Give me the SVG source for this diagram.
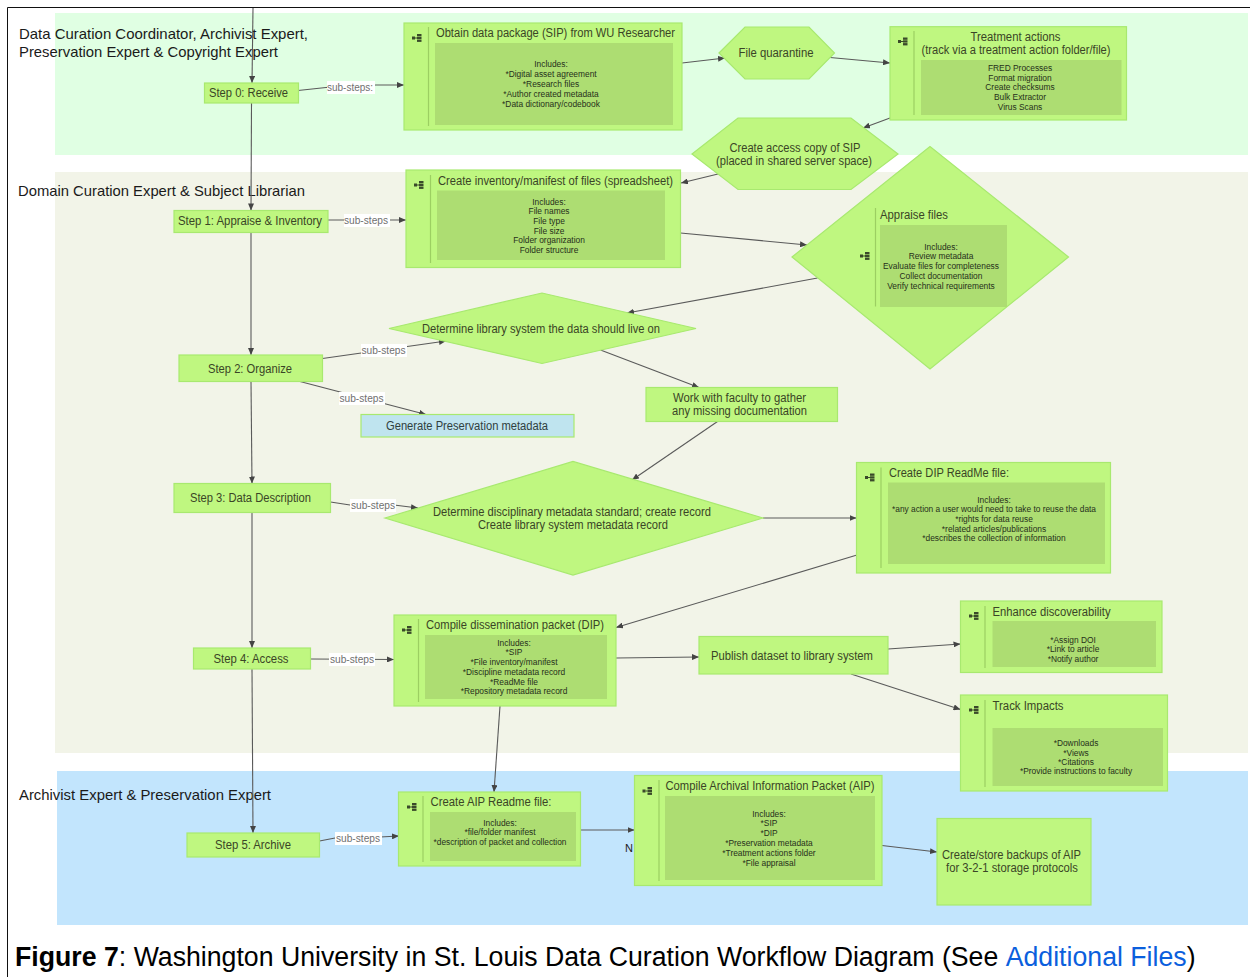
<svg xmlns="http://www.w3.org/2000/svg" xmlns:xlink="http://www.w3.org/1999/xlink" width="1250" height="977" viewBox="0 0 1250 977">
<style>
text{font-family:"Liberation Sans",Arial,sans-serif}
.n{fill:#bff780;stroke:#a8e96f;stroke-width:1.2}
.g{fill:#bfe4ef;stroke:#a8e96f;stroke-width:1.2}
.i{fill:#addd72}
.d{stroke:#9ccf62;stroke-width:1.2;fill:none}
.t{font-size:12px;fill:#3a4526}
.c{text-anchor:middle}
.b{font-size:8.400px;fill:#26301a;text-anchor:middle}
.lane{font-size:15px;fill:#1a1a1a}
.l{font-size:10.500px;fill:#707070;text-anchor:middle}
.lb{fill:#fff}
.e{fill:none;stroke:#5a5a5a;stroke-width:1.1;marker-end:url(#a)}
.ic{fill:#3a4a2a}
</style>
<defs>
<marker id="a" markerUnits="userSpaceOnUse" markerWidth="8" markerHeight="6" refX="7" refY="3" orient="auto"><path d="M0 0L7 3L0 6z" fill="#444"/></marker>
<g id="ico"><rect x="-5" y="-1.500" width="3" height="3"/><rect x="-2" y="-.5" width="2" height="1"/><rect x="0" y="-4" width="4.500" height="2.300"/><rect x="0" y="-1.200" width="4.500" height="2.300"/><rect x="0" y="1.600" width="4.500" height="2.300"/></g>
</defs>
<rect width="1250" height="977" fill="#fff"/>
<g id="frame"><path d="M7.500 977V7.500H1250" fill="none" stroke="#111" stroke-width="1"/></g>
<g id="lanes">
<rect x="55" y="13" width="1193" height="142" fill="#e0ffe3"/>
<rect x="55" y="172" width="1193" height="581" fill="#f2f4e8"/>
<rect x="57" y="771" width="1191" height="154" fill="#c2e5fd"/>
<text class="lane" x="19" y="39" textLength="289" lengthAdjust="spacingAndGlyphs">Data Curation Coordinator, Archivist Expert,</text>
<text class="lane" x="19" y="57" textLength="259" lengthAdjust="spacingAndGlyphs">Preservation Expert &amp; Copyright Expert</text>
<text class="lane" x="18" y="196" textLength="287" lengthAdjust="spacingAndGlyphs">Domain Curation Expert &amp; Subject Librarian</text>
<text class="lane" x="19" y="800" textLength="252" lengthAdjust="spacingAndGlyphs">Archivist Expert &amp; Preservation Expert</text>
</g>
<g id="connectors">
<path class="e" d="M253 8L252 83"/>
<path class="e" d="M251.500 103L251 210.500"/>
<path class="e" d="M251 232.500L251 355"/>
<path class="e" d="M251 381.500L252 483.500"/>
<path class="e" d="M252 512.500L252 648"/>
<path class="e" d="M252 669L253 833"/>
<path class="e" d="M298 90.500L326 87.500L376 85L404 85"/>
<path class="e" d="M328 220L406 220"/>
<path class="e" d="M322.500 358.500L446 341"/>
<path class="e" d="M300 381.500L426 414.500"/>
<path class="e" d="M330.500 502L350 505L394 505L418 508"/>
<path class="e" d="M310.500 659L394 659.500"/>
<path class="e" d="M319.500 841L335 838L380 837L399 836"/>
<path class="e" d="M682 63L725 58"/>
<path class="e" d="M830 57.500L890 63"/>
<path class="e" d="M890 118L863 128"/>
<path class="e" d="M718 174L681 183"/>
<path class="e" d="M680.500 233L807 245"/>
<path class="e" d="M817.500 278L627 313"/>
<path class="e" d="M600.500 350L699 387.500"/>
<path class="e" d="M717.500 421.500L632 480"/>
<path class="e" d="M763 518L856.500 518"/>
<path class="e" d="M857 555L616 627.500"/>
<path class="e" d="M616 658L699 657"/>
<path class="e" d="M888 649L960.500 644"/>
<path class="e" d="M851 674L960.500 709.500"/>
<path class="e" d="M500 706L494 792"/>
<path class="e" d="M580.500 830L634.500 830"/>
<path class="e" d="M882 845.500L937 852"/>
<rect class="lb" x="327" y="81" width="48" height="13"/><text class="l" x="350" y="91" textLength="46" lengthAdjust="spacingAndGlyphs">sub-steps:</text>
<rect class="lb" x="344" y="214" width="46" height="13"/><text class="l" x="366" y="224" textLength="44" lengthAdjust="spacingAndGlyphs">sub-steps</text>
<rect class="lb" x="361" y="344" width="46" height="13"/><text class="l" x="383.500" y="354" textLength="44" lengthAdjust="spacingAndGlyphs">sub-steps</text>
<rect class="lb" x="339" y="392" width="46" height="13"/><text class="l" x="361.500" y="402" textLength="44" lengthAdjust="spacingAndGlyphs">sub-steps</text>
<rect class="lb" x="350" y="499" width="46" height="13"/><text class="l" x="373" y="509" textLength="44" lengthAdjust="spacingAndGlyphs">sub-steps</text>
<rect class="lb" x="329" y="653" width="46" height="13"/><text class="l" x="352" y="663" textLength="44" lengthAdjust="spacingAndGlyphs">sub-steps</text>
<rect class="lb" x="335" y="832" width="47" height="13"/><text class="l" x="358" y="842" textLength="44" lengthAdjust="spacingAndGlyphs">sub-steps</text>
<text x="625" y="852" font-size="11" fill="#222">N</text>
</g>
<g id="step0"><rect class="n" x="204.500" y="83" width="94" height="20"/><text class="t c" x="248.500" y="96.500" textLength="79" lengthAdjust="spacingAndGlyphs">Step 0: Receive</text></g>
<g id="step1"><rect class="n" x="174" y="210.500" width="154" height="22"/><text class="t c" x="250" y="225" textLength="144" lengthAdjust="spacingAndGlyphs">Step 1: Appraise &amp; Inventory</text></g>
<g id="step2"><rect class="n" x="179" y="355" width="143.500" height="26.500"/><text class="t c" x="250" y="373" textLength="84" lengthAdjust="spacingAndGlyphs">Step 2: Organize</text></g>
<g id="step3"><rect class="n" x="174" y="483.500" width="156.500" height="29"/><text class="t c" x="250.500" y="502" textLength="121" lengthAdjust="spacingAndGlyphs">Step 3: Data Description</text></g>
<g id="step4"><rect class="n" x="193.500" y="648" width="117" height="21"/><text class="t c" x="251" y="663" textLength="75" lengthAdjust="spacingAndGlyphs">Step 4: Access</text></g>
<g id="step5"><rect class="n" x="187" y="833" width="132.500" height="24"/><text class="t c" x="253" y="849" textLength="76" lengthAdjust="spacingAndGlyphs">Step 5: Archive</text></g>
<g id="obtain"><rect class="n" x="404" y="23" width="278" height="107"/><path class="d" d="M428.500 27V126"/><use href="#ico" class="ic" x="417" y="38"/><rect class="i" x="435" y="43" width="238" height="82"/>
<text class="t c" x="555.500" y="37" textLength="239" lengthAdjust="spacingAndGlyphs">Obtain data package (SIP) from WU Researcher</text>
<text class="b" x="551" y="67">Includes:</text><text class="b" x="551" y="77">*Digital asset agreement</text><text class="b" x="551" y="87">*Research files</text><text class="b" x="551" y="96.500">*Author created metadata</text><text class="b" x="551" y="106.500">*Data dictionary/codebook</text></g>
<g id="quarantine"><path class="n" d="M719 53L745 27H809L834.500 53L809 79H745z"/><text class="t c" x="776" y="56.500" textLength="75" lengthAdjust="spacingAndGlyphs">File quarantine</text></g>
<g id="treatment"><rect class="n" x="890" y="26.700" width="236.500" height="93.300"/><path class="d" d="M914 31V115"/><use href="#ico" class="ic" x="903" y="41.500"/><rect class="i" x="921" y="60" width="200.500" height="55"/>
<text class="t c" x="1015.500" y="41" textLength="90" lengthAdjust="spacingAndGlyphs">Treatment actions</text><text class="t c" x="1016" y="53.500" textLength="189" lengthAdjust="spacingAndGlyphs">(track via a treatment action folder/file)</text>
<text class="b" x="1020" y="71">FRED Processes</text><text class="b" x="1020" y="80.500">Format migration</text><text class="b" x="1020" y="90">Create checksums</text><text class="b" x="1020" y="100">Bulk Extractor</text><text class="b" x="1020" y="109.500">Virus Scans</text></g>
<g id="access"><path class="n" d="M692 154L738 118H851L898 154L851 189.500H738z"/><text class="t c" x="795" y="151.500" textLength="131" lengthAdjust="spacingAndGlyphs">Create access copy of SIP</text><text class="t c" x="794" y="164.500" textLength="156" lengthAdjust="spacingAndGlyphs">(placed in shared server space)</text></g>
<g id="inventory"><rect class="n" x="406" y="170" width="274.500" height="97.500"/><path class="d" d="M430.500 175V263"/><use href="#ico" class="ic" x="419" y="185"/><rect class="i" x="437" y="190.500" width="228" height="69.500"/>
<text class="t c" x="555.500" y="185" textLength="235" lengthAdjust="spacingAndGlyphs">Create inventory/manifest of files (spreadsheet)</text>
<text class="b" x="549" y="204.500">Includes:</text><text class="b" x="549" y="214">File names</text><text class="b" x="549" y="223.500">File type</text><text class="b" x="549" y="233.500">File size</text><text class="b" x="549" y="243">Folder organization</text><text class="b" x="549" y="252.500">Folder structure</text></g>
<g id="appraise"><path class="n" d="M792 257L930 146.500L1068.500 257L930 369z"/><path class="d" d="M875.500 208V306.500"/><use href="#ico" class="ic" x="865" y="256"/><rect class="i" x="880" y="225" width="127" height="82"/>
<text class="t" x="880" y="219" textLength="68" lengthAdjust="spacingAndGlyphs">Appraise files</text>
<text class="b" x="941" y="249.500">Includes:</text><text class="b" x="941" y="259">Review metadata</text><text class="b" x="941" y="268.500">Evaluate files for completeness</text><text class="b" x="941" y="279">Collect documentation</text><text class="b" x="941" y="288.500">Verify technical requirements</text></g>
<g id="library"><path class="n" d="M389 328.500L542 293L696 328.500L542 363.500z"/><text class="t c" x="541" y="332.500" textLength="238" lengthAdjust="spacingAndGlyphs">Determine library system the data should live on</text></g>
<g id="preservation"><rect class="g" x="361" y="414.500" width="213" height="22.500"/><text class="t c" x="467" y="429.500" textLength="162" lengthAdjust="spacingAndGlyphs" style="fill:#2f4040">Generate Preservation metadata</text></g>
<g id="faculty"><rect class="n" x="646" y="387.500" width="191.500" height="34"/><text class="t c" x="739.500" y="402" textLength="133" lengthAdjust="spacingAndGlyphs">Work with faculty to gather</text><text class="t c" x="739.500" y="415" textLength="135" lengthAdjust="spacingAndGlyphs">any missing documentation</text></g>
<g id="disciplinary"><path class="n" d="M385 518L573 461.500L763 518L573 575z"/><text class="t c" x="572" y="515.500" textLength="278" lengthAdjust="spacingAndGlyphs">Determine disciplinary metadata standard; create record</text><text class="t c" x="573" y="529" textLength="190" lengthAdjust="spacingAndGlyphs">Create library system metadata record</text></g>
<g id="readme"><rect class="n" x="856.500" y="462.500" width="254" height="110.500"/><path class="d" d="M881 467.500V568"/><use href="#ico" class="ic" x="870" y="477.500"/><rect class="i" x="888" y="482.500" width="217" height="81.500"/>
<text class="t" x="889" y="477" textLength="120" lengthAdjust="spacingAndGlyphs">Create DIP ReadMe file:</text>
<text class="b" x="994" y="502.500">Includes:</text><text class="b" x="994" y="512" textLength="204" lengthAdjust="spacingAndGlyphs">*any action a user would need to take to reuse the data</text><text class="b" x="994" y="522">*rights for data reuse</text><text class="b" x="994" y="531.500">*related articles/publications</text><text class="b" x="994" y="541">*describes the collection of information</text></g>
<g id="dip"><rect class="n" x="394" y="615" width="222" height="91"/><path class="d" d="M418.500 619V702"/><use href="#ico" class="ic" x="407" y="630"/><rect class="i" x="425" y="635" width="182" height="64"/>
<text class="t" x="426" y="628.500" textLength="178" lengthAdjust="spacingAndGlyphs">Compile dissemination packet (DIP)</text>
<text class="b" x="514" y="646">Includes:</text><text class="b" x="514" y="655">*SIP</text><text class="b" x="514" y="665">*File inventory/manifest</text><text class="b" x="514" y="675">*Discipline metadata record</text><text class="b" x="514" y="684.500">*ReadMe file</text><text class="b" x="514" y="694">*Repository metadata record</text></g>
<g id="publish"><rect class="n" x="699" y="636.500" width="189" height="37.500"/><text class="t c" x="792" y="659.500" textLength="162" lengthAdjust="spacingAndGlyphs">Publish dataset to library system</text></g>
<g id="enhance"><rect class="n" x="960.500" y="601" width="201.500" height="71.500"/><path class="d" d="M985 606V668"/><use href="#ico" class="ic" x="974" y="616"/><rect class="i" x="992.500" y="621" width="163.500" height="46"/>
<text class="t" x="992.500" y="615.500" textLength="118" lengthAdjust="spacingAndGlyphs">Enhance discoverability</text>
<text class="b" x="1073" y="642.500">*Assign DOI</text><text class="b" x="1073" y="652">*Link to article</text><text class="b" x="1073" y="662">*Notify author</text></g>
<g id="aipreadme"><rect class="n" x="398.500" y="792" width="182" height="74"/><path class="d" d="M423 796V862"/><use href="#ico" class="ic" x="412" y="807"/><rect class="i" x="430" y="812" width="146" height="49"/>
<text class="t" x="430.500" y="806" textLength="121" lengthAdjust="spacingAndGlyphs">Create AIP Readme file:</text>
<text class="b" x="500" y="825.500">Includes:</text><text class="b" x="500" y="835">*file/folder manifest</text><text class="b" x="500" y="844.500" textLength="133" lengthAdjust="spacingAndGlyphs">*description of packet and collection</text></g>
<g id="aip"><rect class="n" x="634.500" y="775.500" width="247.500" height="110"/><path class="d" d="M659 780V881"/><use href="#ico" class="ic" x="647.500" y="791"/><rect class="i" x="665" y="796" width="210" height="84"/>
<text class="t" x="665.500" y="790" textLength="209" lengthAdjust="spacingAndGlyphs">Compile Archival Information Packet (AIP)</text>
<text class="b" x="769" y="817">Includes:</text><text class="b" x="769" y="826">*SIP</text><text class="b" x="769" y="836">*DIP</text><text class="b" x="769" y="846">*Preservation metadata</text><text class="b" x="769" y="855.500">*Treatment actions folder</text><text class="b" x="769" y="865.500">*File appraisal</text></g>
<g id="track"><rect class="n" x="960.500" y="695" width="207" height="96"/><path class="d" d="M985 700V787"/><use href="#ico" class="ic" x="974" y="710"/><rect class="i" x="992.500" y="728" width="170.500" height="58"/>
<text class="t" x="992.500" y="709.500" textLength="71" lengthAdjust="spacingAndGlyphs">Track Impacts</text>
<text class="b" x="1076" y="745.500">*Downloads</text><text class="b" x="1076" y="755.500">*Views</text><text class="b" x="1076" y="765">*Citations</text><text class="b" x="1076" y="774">*Provide instructions to faculty</text></g>
<g id="backup"><rect class="n" x="937" y="818.500" width="154" height="86.500"/><text class="t c" x="1011.500" y="859" textLength="139" lengthAdjust="spacingAndGlyphs">Create/store backups of AIP</text><text class="t c" x="1012" y="872" textLength="132" lengthAdjust="spacingAndGlyphs">for 3-2-1 storage protocols</text></g>
<g id="caption"><text transform="translate(15 966) scale(.9535 1)" font-size="28" fill="#000"><tspan font-weight="700">Figure 7</tspan>: Washington University in St. Louis Data Curation Workflow Diagram (See <tspan fill="#0b5fdd">Additional Files</tspan>)</text></g>
</svg>
